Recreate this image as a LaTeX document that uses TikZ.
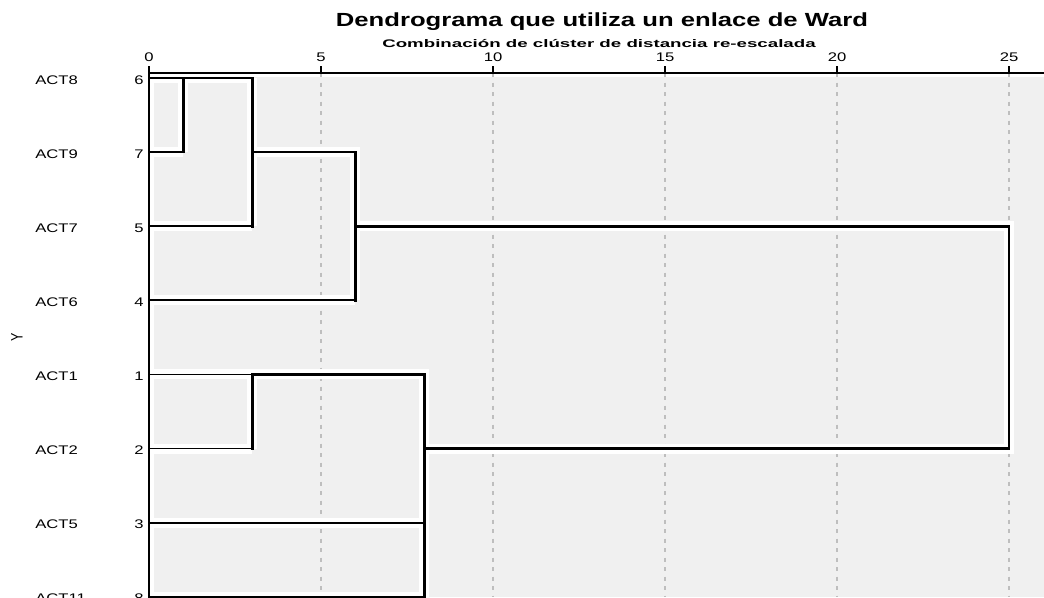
\documentclass[tikz,border=0pt]{standalone}
\usepackage{fontspec}
\setmainfont{Liberation Sans}
\usetikzlibrary{calc}
\definecolor{plotbg}{RGB}{240,240,240}
\definecolor{gridgray}{RGB}{190,190,190}

\begin{document}
\begin{tikzpicture}[
  x=1pt, y=-1pt,
  lbl/.style={font=\fontsize{12.5}{14}\selectfont, xscale=1.33, inner sep=0pt},
  charttitle/.style={font=\fontsize{19}{22}\selectfont\bfseries, xscale=1.35, inner sep=0pt, anchor=base},
  chartsub/.style={font=\fontsize{11}{13}\selectfont\bfseries, xscale=1.7, inner sep=0pt, anchor=base},
  gridline/.style={draw=gridgray, line width=1.4pt, dash pattern=on 4pt off 5.5pt},
  halo/.style={draw=white, line width=10pt},
  link/.style={draw=black, line width=2.7pt, line cap=rect},
  leaf/.style={draw=black, line width=1.8pt, line cap=rect}
]
\useasboundingbox (0,0) rectangle (1044,597);
\clip (0,0) rectangle (1044,597);

% Titles
\node[charttitle] (title) at (602,26) {Dendrograma que utiliza un enlace de Ward};
\node[chartsub] (sub) at (599,47) {Combinación de clúster de distancia re-escalada};

% Plot area
\fill[plotbg] (149,77) rectangle (1044,597);

% Distance marks on the axis
\foreach \d in {0,5,...,25}{
  \coordinate (t\d) at ({149+34.4*\d},73);
  \node[lbl, anchor=base] (tl\d) at ($(t\d)+(0,-12)$) {\d};
}
\foreach \d in {1,3,6,8,25}
  \coordinate (d\d) at ({149+34.4*\d},73);

% Grid
\foreach \d in {5,10,...,25}
  \draw[gridline] (t\d) -- (t\d |- 0,597);

% Rows: label, case number, start of line
\foreach \name/\num/\i in {ACT8/6/0, ACT9/7/1, ACT7/5/2, ACT6/4/3, ACT1/1/4, ACT2/2/5, ACT5/3/6, ACT11/8/7}{
  \coordinate (s\num) at (149,{78+74.1*\i});
  \node[lbl, anchor=base west] (lab\num) at ($(s\num)+(-114,6)$) {\name};
  \node[lbl, anchor=base east] (num\num) at ($(s\num)+(-5,6)$) {\num};
}

\node[lbl, xscale=1, rotate=90] (ylab) at (17,337) {Y};

% Tree (white halo first, then the black lines)
\foreach \sty/\thin in {halo/halo, link/leaf}{
  \draw[\thin] (s6) -- (s6 -| d1);
  \draw[\thin] (s7) -- (s7 -| d1);
  \draw[\thin] (s5) -- (s5 -| d3);
  \draw[\thin] (s4) -- (s4 -| d6);
  \draw[\thin] (s1) -- (s1 -| d3);
  \draw[\thin] (s2) -- (s2 -| d3);
  \draw[\thin] (s3) -- (s3 -| d8);
  \draw[\thin] (s8) -- (s8 -| d8);
  \draw[\sty] (s7 -| d1) -- (s6 -| d1) -- (s6 -| d3);
  \draw[\sty] (s6 -| d3) -- (s5 -| d3);
  \draw[\sty] (s7 -| d3) -- (s7 -| d6) -- (s4 -| d6);
  \draw[\sty] (s5 -| d6) -- (s5 -| d25) -- (s2 -| d25) -- (s2 -| d8);
  \draw[\sty] (s2 -| d3) -- (s1 -| d3) -- (s1 -| d8) -- (s8 -| d8);
  \draw[\sty] (t0) -- (t0 |- 0,597);
}

% Axis
\draw[line width=1.3pt] (t0) -- (1044,73);
\foreach \d in {0,5,...,25}
  \draw[line width=1.5pt] (t\d) -- ++(0,-7);

\end{tikzpicture}
\end{document}
